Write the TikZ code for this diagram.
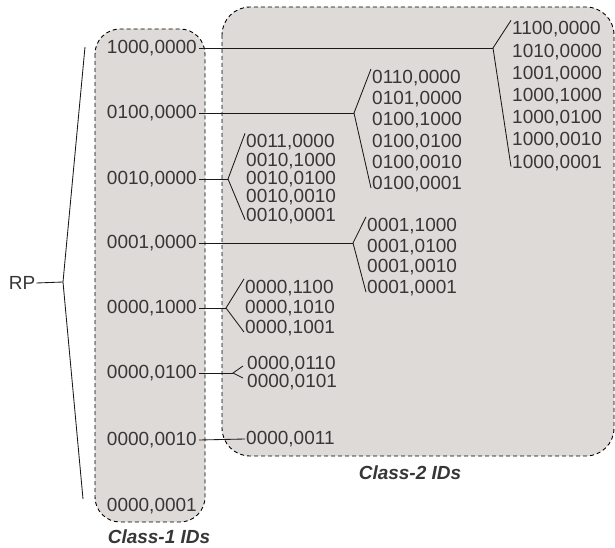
\documentclass[tikz,border=0pt]{standalone}
\usepackage{fontspec}
\setmainfont{Liberation Sans}
\usepackage{tikz}
\definecolor{idfill}{RGB}{222,218,215}
\definecolor{idtext}{RGB}{55,55,55}

\begin{document}
\begin{tikzpicture}[x=1pt,y=-1pt,
    idbox/.style={draw=black,fill=idfill,line width=0.9pt,dash pattern=on 4pt off 3pt},
    idlabel/.style={font=\fontsize{19}{22}\selectfont,text=idtext,inner sep=1pt},
    one/.style={idlabel,anchor=east,inner sep=2pt},
    kids/.style={idlabel,anchor=west,align=left},
    tag/.style={font=\fontsize{19}{22}\selectfont\bfseries\itshape,text=idtext},
    link/.style={draw=black!90,line width=0.85pt}]
    \useasboundingbox (0,0) rectangle (615,548);
    \draw[idbox,rounded corners=28pt] (222,7) rectangle (614,456);
    \draw[idbox,rounded corners=25pt] (95,29) rectangle (205,522);

    \node[one] (c1) at (199,48)  {1000,0000};
    \node[one] (c2) at (199,113) {0100,0000};
    \node[one] (c3) at (199,179) {0010,0000};
    \node[one] (c4) at (199,243) {0001,0000};
    \node[one] (c5) at (199,308) {0000,1000};
    \node[one] (c6) at (199,373) {0000,0100};
    \node[one] (c7) at (199,440) {0000,0010};
    \node[one] (c8) at (199,506) {0000,0001};

    \node[kids,font=\fontsize{19}{22.2}\selectfont] (s1) at (511,96)
        {1100,0000\\1010,0000\\1001,0000\\1000,1000\\1000,0100\\1000,0010\\1000,0001};
    \node[kids,font=\fontsize{19}{21.2}\selectfont] (s2) at (371,131)
        {0110,0000\\0101,0000\\0100,1000\\0100,0100\\0100,0010\\0100,0001};
    \node[kids,font=\fontsize{19}{18.3}\selectfont] (s3) at (245,179)
        {0011,0000\\0010,1000\\0010,0100\\0010,0010\\0010,0001};
    \node[kids,font=\fontsize{19}{20.7}\selectfont] (s4) at (366,257)
        {0001,1000\\0001,0100\\0001,0010\\0001,0001};
    \node[kids,font=\fontsize{19}{20}\selectfont] (s5) at (244,308)
        {0000,1100\\0000,1010\\0000,1001};
    \node[kids,font=\fontsize{19}{18}\selectfont] (s6) at (246,373)
        {0000,0110\\0000,0101};
    \node[kids] (s7) at (245,439) {0000,0011};

    \node[idlabel] (rp) at (22,283) {RP};
    \coordinate (b0) at (63,282);
    \coordinate (t1) at (85,47);
    \coordinate (t2) at (83,499);
    \coordinate (b1) at (493,48);
    \coordinate (b2) at (354,113);
    \coordinate (b3) at (228,179);
    \coordinate (b4) at (353,243);
    \coordinate (b5) at (226,308);
    \coordinate (b6) at (233,373);

    \draw[link] (rp.east) -- (b0);
    \draw[link] (t1) -- (b0) -- (t2);
    \draw[link] (c1.east) -- (b1);
    \draw[link] (s1.north west) -- (b1) -- ([yshift=5pt]s1.south west);
    \draw[link] (c2.east) -- (b2);
    \draw[link] (s2.north west) -- (b2) -- ([yshift=5pt]s2.south west);
    \draw[link] (c3.east) -- (b3);
    \draw[link] (s3.north west) -- (b3) -- ([yshift=5pt]s3.south west);
    \draw[link] (c4.east) -- (b4);
    \draw[link] (s4.north west) -- (b4) -- ([yshift=5pt]s4.south west);
    \draw[link] (c5.east) -- (b5);
    \draw[link] (s5.north west) -- (b5) -- ([yshift=5pt]s5.south west);
    \draw[link] (c6.east) -- (b6);
    \draw[link] ([xshift=-3pt,yshift=7pt]s6.west) -- (b6) -- ([xshift=-3pt,yshift=-5pt]s6.west);
    \draw[link] (c7.east) -- (s7.west);

    \node[tag] (k1) at (159,537) {Class-1 IDs};
    \node[tag] (k2) at (410,473) {Class-2 IDs};
\end{tikzpicture}
\end{document}
